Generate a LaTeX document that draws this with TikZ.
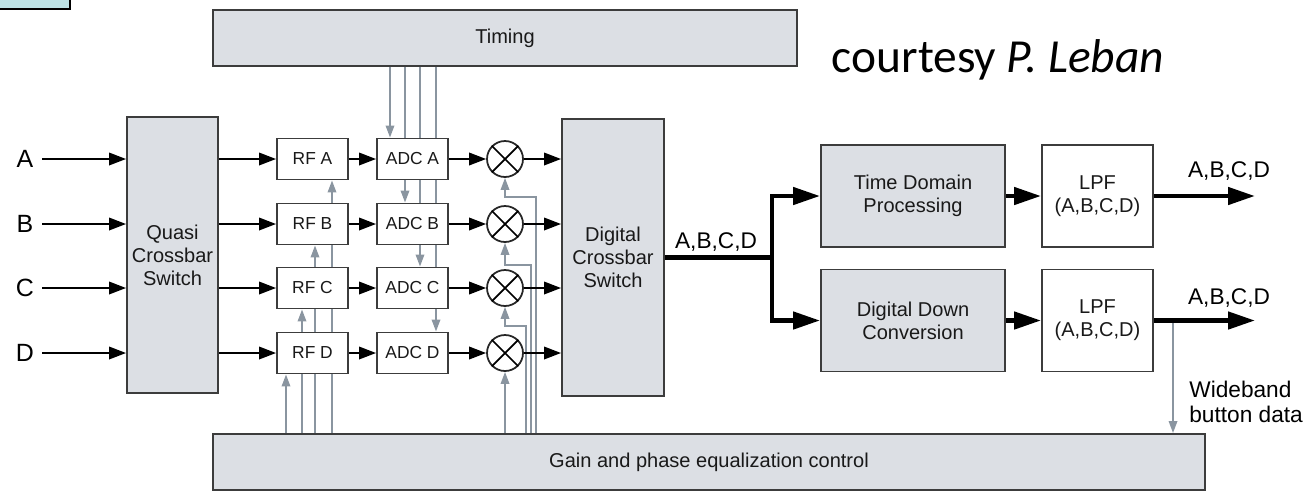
\documentclass[tikz,border=0pt]{standalone}
\usepackage{fontspec}
\setmainfont{Liberation Sans}
\newfontfamily\courtfont{Carlito}
\usetikzlibrary{arrows.meta,backgrounds}

\definecolor{boxfill}{HTML}{DCDFE4}
\definecolor{boxline}{HTML}{3C3C3C}
\definecolor{ctlgrey}{HTML}{8A95A0}
\definecolor{tabcyan}{HTML}{BCE2E5}

\tikzset{
  blk/.style={draw=boxline, fill=boxfill, line width=1.1pt, align=center,
    inner sep=0pt, text=black!90, font=\fontsize{11.4}{13}\selectfont},
  sblk/.style={blk, fill=white, minimum width=14.2mm, minimum height=8.2mm},
  chblk/.style={sblk, font=\fontsize{9.9}{12}\selectfont},
  mixer/.style={draw=black!85, fill=white, circle, line width=1pt,
    minimum size=7.2mm, inner sep=0pt},
  sig/.style={line width=1.1pt, -{Triangle[length=3.4mm,width=2.5mm]}},
  bus/.style={line width=2.6pt, -{Triangle[length=5.4mm,width=3.4mm]}},
  ctl/.style={draw=ctlgrey, line width=1pt, -{Triangle[length=2.4mm,width=1.7mm]}},
  lbl/.style={inner sep=0pt, font=\fontsize{12.9}{14.2}\selectfont}
}

\begin{document}
\begin{tikzpicture}[x=0.02cm, y=-0.02cm]
  \useasboundingbox (0,0) rectangle (1307,498);

  % corner of the slide tab
  \draw[fill=tabcyan, line width=1.4pt] (-10,-10) rectangle (70,9);

  \node[blk, minimum width=116.8mm, minimum height=11.2mm] (tim) at (505,38) {Timing};
  \node[blk, minimum width=198.4mm, minimum height=11.2mm] (gpe) at (709,462) {Gain and phase equalization control};
  \node[blk, minimum width=18.2mm, minimum height=55.2mm] (qcs) at (172.5,255) {Quasi\\Crossbar\\Switch};
  \node[blk, minimum width=20.4mm, minimum height=55.4mm] (dcs) at (613,257.5) {Digital\\Crossbar\\Switch};

  \node[font=\courtfont\fontsize{27}{30}\selectfont, inner sep=0pt, anchor=base] (crt)
    at (998,72) {courtesy \textit{P. Leban}};

  % the four channels
  \foreach \r/\y in {A/159, B/224, C/288, D/353} {
    \node[inner sep=0pt, font=\fontsize{14.2}{16}\selectfont] (in\r) at (25,\y) {\r};
    \node[chblk] (rf\r) at (312.5,\y) {RF \r};
    \node[chblk] (adc\r) at (412.5,\y) {ADC \r};
    \node[mixer] (mix\r) at (505,\y) {};
    \draw[line width=1pt] (mix\r.north east) -- (mix\r.south west)
      (mix\r.north west) -- (mix\r.south east);
    \draw[sig] (in\r.east -| 42,0) -- (qcs.west |- in\r.east);
    \draw[sig] (qcs.east |- rf\r.west) -- (rf\r.west);
    \draw[sig] (rf\r) -- (adc\r);
    \draw[sig] (adc\r) -- (mix\r);
    \draw[sig] (mix\r) -- (dcs.west |- mix\r.east);
  }

  \begin{scope}[on background layer]
    \foreach \x/\t in {390/A, 405/B, 420/C, 436/D}
      \draw[ctl] (tim.south -| \x,0) -- (adc\t.north -| \x,0);
    \foreach \x/\t in {286/D, 302/C, 315/B, 332/A}
      \draw[ctl] (gpe.north -| \x,0) -- (rf\t.south -| \x,0);
    \foreach \t/\x/\y in {A/536/197, B/531/265, C/526/326}
      \draw[ctl] (gpe.north -| \x,0) |- (mix\t.south |- 0,\y) -- (mix\t.south);
    \draw[ctl] (gpe.north -| mixD.south) -- (mixD.south);
  \end{scope}

  % back end
  \node[blk, minimum width=36.8mm, minimum height=20.4mm] (tdp) at (913,196) {Time Domain\\Processing};
  \node[blk, minimum width=36.8mm, minimum height=20.4mm] (ddc) at (913,320.5) {Digital Down\\Conversion};
  \node[sblk, minimum width=22.2mm, minimum height=20.4mm] (lpfa) at (1097.5,196) {LPF\\(A,B,C,D)};
  \node[sblk, minimum width=22.2mm, minimum height=20.4mm] (lpfb) at (1097.5,320.5) {LPF\\(A,B,C,D)};

  \coordinate (jn) at (772,257.5);
  \coordinate (outa) at (1255,196);
  \coordinate (outb) at (1255,320.5);

  \draw[bus] (dcs.east) -- (jn) |- (tdp.west);
  \draw[bus] (jn) |- (ddc.west);
  \node[lbl] (labm) at (716,242) {A,B,C,D};

  \draw[ctl] (lpfb.east -| 1173,0) -- (gpe.north -| 1173,0);
  \draw[bus] (tdp) -- (lpfa);
  \draw[bus] (ddc) -- (lpfb);
  \draw[bus] (lpfa.east) -- (outa);
  \draw[bus] (lpfb.east) -- (outb);
  \node[lbl] (laba) at (1229,171) {A,B,C,D};
  \node[lbl] (labb) at (1229,298) {A,B,C,D};
  \node[lbl, align=left, anchor=north west] (wbd) at (1189,381) {Wideband\\button data};
\end{tikzpicture}
\end{document}
